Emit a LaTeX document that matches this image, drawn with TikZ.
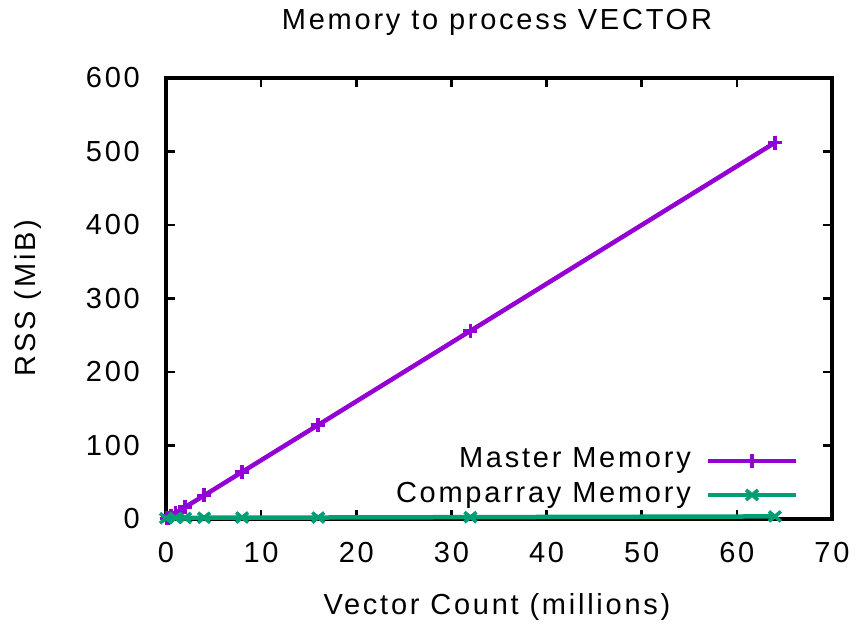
\documentclass[tikz,border=0pt]{standalone}
\usepackage{fontspec}
\setmainfont{Liberation Sans}[LetterSpace=9.5]
\definecolor{mviolet}{HTML}{9400D3}
\definecolor{mgreen}{HTML}{009E73}
\begin{document}
\begin{tikzpicture}[x=1pt,y=1pt,
  lbl/.style={font=\fontsize{29}{31}\selectfont, inner sep=0pt},
  master/.style={draw=mviolet, line width=4.5pt, line join=round},
  comp/.style={draw=mgreen, line width=4.5pt, line join=round},
  mk/.style={line width=3.5pt},
  tickln/.style={line width=2.5pt}]
\useasboundingbox (0,0) rectangle (856,628);
\fill[white] (0,0) rectangle (856,628);
% titles
\node[lbl] (title) at (497,606) {Memory to process VECTOR};
\node[lbl, rotate=90] (ylab) at (28,330) {RSS (MiB)};
\node[lbl] (xlab) at (497,21) {Vector Count (millions)};
% data scope
\begin{scope}[shift={(166pt,109pt)}, x=9.514pt, y=0.735pt]
  \draw[line width=3.5pt] (0,0) rectangle (70,600);
  \foreach \v in {0,10,...,70} {
    \draw[tickln] (\v,0) -- ++(0,9pt);
    \draw[tickln] (\v,600) -- ++(0,-9pt);
    \node[lbl] (xt\v) at (\v,-46) {\v};
  }
  \foreach \v in {0,100,...,600} {
    \draw[tickln] (0,\v) -- ++(9pt,0);
    \draw[tickln] (70,\v) -- ++(-9pt,0);
    \node[lbl, anchor=east] (yt\v) at ([xshift=-26pt]0,\v) {\v};
  }
  % Master
  \draw[master] plot coordinates {(0.125,1) (0.25,2) (0.5,4) (1,8) (2,16) (4,32) (8,64) (16,128) (32,256) (64,512)};
  \foreach \p in {(0.125,1),(0.25,2),(0.5,4),(1,8),(2,16),(4,32),(8,64),(16,128),(32,256),(64,512)} {
    \draw[mviolet, mk] \p ++(-7pt,0) -- ++(14pt,0);
    \draw[mviolet, mk] \p ++(0,-7pt) -- ++(0,14pt);
  }
  % Comparray
  \draw[comp] plot coordinates {(0,1) (1,1.5) (2,1.5) (4,1.7) (8,2) (16,2) (32,2.5) (64,3.5)};
  \foreach \p in {(0,1),(1,1.5),(2,1.5),(4,1.7),(8,2),(16,2),(32,2.5),(64,3.5)} {
    \draw[mgreen, mk] \p ++(-6pt,-5pt) -- ++(12pt,10pt);
    \draw[mgreen, mk] \p ++(-6pt,5pt) -- ++(12pt,-10pt);
  }
\end{scope}
% legend
\node[lbl, anchor=east] (lgm) at (691,167) {Master Memory};
\coordinate (lgma) at (708,167);
\coordinate (lgmb) at (796,167);
\coordinate (lgmc) at (752,167);
\draw[master] (lgma) -- (lgmb);
\draw[mviolet, mk] (lgmc) ++(-7pt,0) -- ++(14pt,0);
\draw[mviolet, mk] (lgmc) ++(0,-7pt) -- ++(0,14pt);
\node[lbl, anchor=east] (lgc) at (691,133) {Comparray Memory};
\coordinate (lgca) at (708,133);
\coordinate (lgcb) at (796,133);
\coordinate (lgcc) at (752,133);
\draw[comp] (lgca) -- (lgcb);
\draw[mgreen, mk] (lgcc) ++(-6pt,-5pt) -- ++(12pt,10pt);
\draw[mgreen, mk] (lgcc) ++(-6pt,5pt) -- ++(12pt,-10pt);
\end{tikzpicture}
\end{document}
